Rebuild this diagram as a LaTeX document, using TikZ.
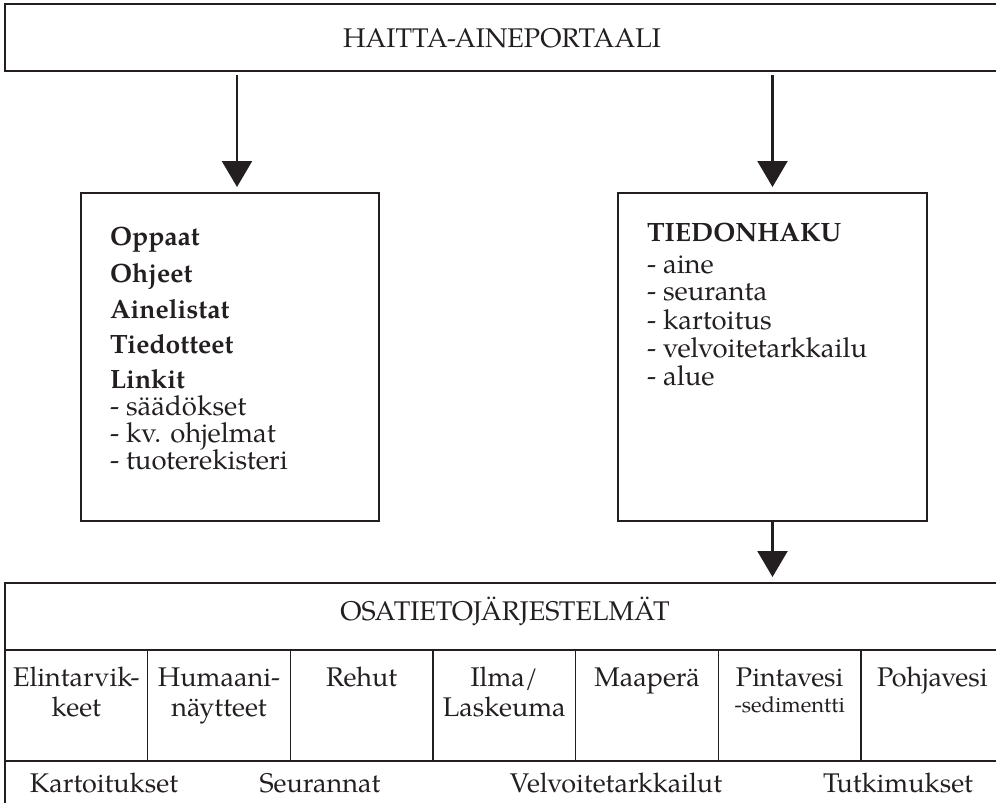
\documentclass[tikz,border=0pt]{standalone}
\usepackage{fontspec}
\setmainfont{TeX Gyre Pagella}
\usetikzlibrary{arrows.meta}
\definecolor{ink}{RGB}{35,31,32}
\begin{document}
\begin{tikzpicture}[x=1pt,y={(0,-1pt)},
  every node/.style={inner sep=0pt, outer sep=0pt, text=ink},
  frame/.style={draw=ink, line width=1.3pt, rectangle, anchor=north west},
  txt/.style={font=\fontsize{27}{30}\selectfont, anchor=base},
  itm/.style={font=\fontsize{27.5}{30}\selectfont, anchor=base west},
  btm/.style={font=\bfseries\fontsize{26.5}{30}\selectfont, anchor=base west},
  arr/.style={draw=ink, line width=2.3pt, -{Triangle[length=26pt,width=30pt]}}]
\useasboundingbox (0,0) rectangle (996,803);
\clip (0,0) rectangle (996,803);
% top box
\node[frame, minimum width=1020, minimum height=67] (top) at (5,4) {};
\node[txt] (toptitle) at (502,47) {HAITTA-AINEPORTAALI};
% middle boxes
\node[frame, minimum width=298, minimum height=328] (lb) at (81,193) {};
\node[frame, minimum width=309, minimum height=328] (rb) at (618,193) {};
% left box text
\node[btm] (l1) at (110,245.5) {Oppaat};
\node[btm] (l2) at (110,282) {Ohjeet};
\node[btm] (l3) at (110,318) {Ainelistat};
\node[btm] (l4) at (110,353) {Tiedotteet};
\node[btm] (l5) at (110,388.5) {Linkit};
\node[itm] (l6) at (110,415) {- säädökset};
\node[itm] (l7) at (110,442) {- kv. ohjelmat};
\node[itm] (l8) at (110,469) {- tuoterekisteri};
% right box text
\node[btm] (r1) at (647,241) {TIEDONHAKU};
\node[itm] (r2) at (647,273) {- aine};
\node[itm] (r3) at (647,300.5) {- seuranta};
\node[itm] (r4) at (647,329) {- kartoitus};
\node[itm] (r5) at (647,357) {- velvoitetarkkailu};
\node[itm] (r6) at (647,385) {- alue};
% bottom structure
\node[frame, minimum width=1020, minimum height=67] (osa) at (5,583) {};
\node[txt] (osatitle) at (505,620) {OSATIETOJÄRJESTELMÄT};
\foreach \i in {1,...,7} {
  \node[frame, minimum width=142.67, minimum height=111] (c\i) at ({5+(\i-1)*142.67},650) {};
}
\draw[ink, line width=1.3pt] (c1.south west) -- ++(0,60);
\node[txt] (t1) at ([yshift=-36.7pt]c1.north) {\begin{tabular}[t]{@{}c@{}}Elintarvik-\\keet\end{tabular}};
\node[txt] (t2) at ([yshift=-36.7pt]c2.north) {\begin{tabular}[t]{@{}c@{}}Humaani-\\näytteet\end{tabular}};
\node[txt] (t3) at ([yshift=-36.7pt]c3.north) {Rehut};
\node[txt] (t4) at ([yshift=-36.7pt]c4.north) {\begin{tabular}[t]{@{}c@{}}Ilma/\\Laskeuma\end{tabular}};
\node[txt] (t5) at ([yshift=-36.7pt]c5.north) {Maaperä};
\node[txt] (t6) at ([yshift=-36.7pt]c6.north) {\begin{tabular}[t]{@{}c@{}}Pintavesi\\[-4pt]{\fontsize{22}{26}\selectfont -sedimentti}\end{tabular}};
\node[txt] (t7) at ([yshift=-36.7pt]c7.north) {Pohjavesi};
% bottom labels
\node[txt] (b1) at (104,792.7) {Kartoitukset};
\node[txt] (b2) at (320,792.7) {Seurannat};
\node[txt] (b3) at (616,792.7) {Velvoitetarkkailut};
\node[txt] (b4) at (898,792.7) {Tutkimukset};
% arrows
\draw[arr, shorten <=4pt, shorten >=6pt] ([xshift=7pt]lb.north |- top.south) -- ([xshift=7pt]lb.north);
\draw[arr, shorten <=4pt, shorten >=6pt] (rb.north |- top.south) -- (rb.north);
\draw[arr, shorten >=6pt] (rb.south) -- (rb.south |- osa.north);
\end{tikzpicture}
\end{document}
